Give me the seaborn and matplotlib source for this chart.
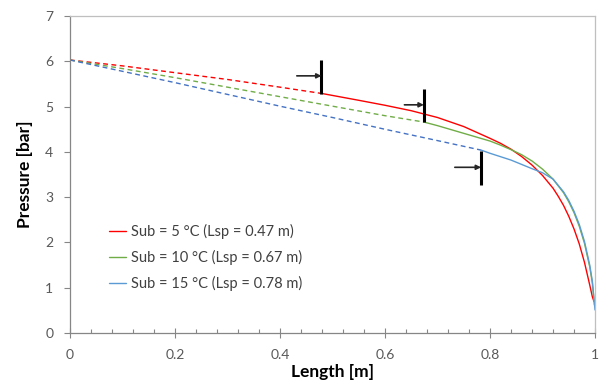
import matplotlib.pyplot as plt
import seaborn as sns

# Pressure along the tube for three subcooling levels
# liquid part (dashed) and two-phase part (solid)
series_labels = ['Sub = 5 °C (Lsp = 0.47 m)', 'Sub = 10 °C (Lsp = 0.67 m)', 'Sub = 15 °C (Lsp = 0.78 m)']

red_liq_x = [0, 0.1, 0.2, 0.3, 0.4, 0.48]
red_liq_y = [6.03, 5.90, 5.75, 5.60, 5.43, 5.29]
red_tp_x = [0.48, 0.55, 0.60, 0.65, 0.70, 0.75, 0.80, 0.82, 0.84, 0.86, 0.88, 0.90, 0.92, 0.93,
            0.94, 0.95, 0.96, 0.97, 0.98, 0.99, 0.995, 0.998]
red_tp_y = [5.29, 5.14, 5.03, 4.91, 4.76, 4.56, 4.30, 4.19, 4.06, 3.90, 3.71, 3.48, 3.20, 3.02,
            2.82, 2.58, 2.30, 1.97, 1.56, 1.06, 0.80, 0.70]

green_liq_x = [0, 0.1, 0.2, 0.3, 0.4, 0.5, 0.6, 0.674]
green_liq_y = [6.03, 5.84, 5.64, 5.43, 5.22, 5.01, 4.80, 4.66]
green_tp_x = [0.674, 0.70, 0.75, 0.80, 0.82, 0.84, 0.86, 0.88, 0.90, 0.92, 0.94, 0.95, 0.96,
              0.97, 0.98, 0.99, 0.995, 0.999]
green_tp_y = [4.66, 4.58, 4.41, 4.24, 4.15, 4.05, 3.94, 3.80, 3.62, 3.40, 3.10, 2.90, 2.66,
              2.36, 1.98, 1.46, 1.10, 0.62]

blue_liq_x = [0, 0.1, 0.2, 0.3, 0.4, 0.5, 0.6, 0.7, 0.783]
blue_liq_y = [6.03, 5.78, 5.53, 5.27, 5.01, 4.76, 4.50, 4.25, 4.04]
blue_tp_x = [0.783, 0.80, 0.84, 0.88, 0.90, 0.92, 0.94, 0.95, 0.96, 0.97, 0.98, 0.99, 0.995, 1.0]
blue_tp_y = [4.04, 3.97, 3.82, 3.63, 3.54, 3.40, 3.12, 2.93, 2.69, 2.40, 2.02, 1.50, 1.14, 0.51]

# markers at the end of the liquid length (vertical bar + arrow)
lsp_x = [0.479, 0.674, 0.783]
bar_low = [5.29, 4.67, 3.27]
bar_high = [6.03, 5.39, 4.01]
arrow_from = [0.432, 0.637, 0.733]
arrow_y = [5.68, 5.04, 3.66]

cores_liq = ['#FF0000', '#70AD47', '#4472C4']
cores_tp = ['#FF0000', '#70AD47', '#5B9BD5']

sns.set_style('white')
plt.rcParams['font.family'] = ['Lato', 'DejaVu Sans']

fig, ax = plt.subplots(figsize=(6.01, 3.83), dpi=100)
fig.subplots_adjust(left=0.1165, right=0.990, bottom=0.1305, top=0.958)

liq = [(red_liq_x, red_liq_y), (green_liq_x, green_liq_y), (blue_liq_x, blue_liq_y)]
tp = [(red_tp_x, red_tp_y), (green_tp_x, green_tp_y), (blue_tp_x, blue_tp_y)]

for i in range(3):
    sns.lineplot(x=liq[i][0], y=liq[i][1], color=cores_liq[i], linewidth=1.0,
                 linestyle=(0, (3.5, 2.5)), sort=False, ax=ax)
    sns.lineplot(x=tp[i][0], y=tp[i][1], color=cores_tp[i], linewidth=1.0,
                 sort=False, ax=ax, label=series_labels[i])

for i in range(3):
    ax.plot([lsp_x[i], lsp_x[i]], [bar_low[i], bar_high[i]], color='black', lw=2.2, solid_capstyle='butt')
    ax.annotate('', xy=(lsp_x[i], arrow_y[i]), xytext=(arrow_from[i], arrow_y[i]),
                arrowprops=dict(arrowstyle='-|>', color='#262626', lw=1.2,
                                mutation_scale=7, shrinkA=0, shrinkB=0))

ax.set_xlim(0, 1)
ax.set_ylim(0, 7)
ax.set_xticks([0, 0.2, 0.4, 0.6, 0.8, 1.0])
ax.set_xticklabels(['0', '0.2', '0.4', '0.6', '0.8', '1'])
ax.xaxis.set_minor_locator(plt.MultipleLocator(0.04))
ax.set_yticks(range(8))

ax.tick_params(axis='x', which='major', direction='inout', length=7, width=0.8,
               color='#868686', labelcolor='#595959', labelsize=10, pad=8)
ax.tick_params(axis='x', which='minor', direction='in', length=3, width=0.8, color='#868686')
ax.tick_params(axis='y', which='major', direction='out', length=4, width=0.8,
               color='#868686', labelcolor='#595959', labelsize=10, pad=8, left=True)
ax.tick_params(axis='x', bottom=True, which='both')

for lado in ['left', 'bottom']:
    ax.spines[lado].set_color('#868686')
    ax.spines[lado].set_linewidth(0.9)
for lado in ['top', 'right']:
    ax.spines[lado].set_color('#BFBFBF')
    ax.spines[lado].set_linewidth(0.9)

ax.set_xlabel('Length [m]', fontsize=12.5, fontweight='bold', color='black', labelpad=2)
ax.set_ylabel('Pressure [bar]', fontsize=12.5, fontweight='bold', color='black', labelpad=9)

leg = ax.legend(loc='upper left', bbox_to_anchor=(0.05, 0.385), frameon=False, fontsize=10.5,
                handlelength=1.15, handletextpad=0.35, labelspacing=0.75)
for t in leg.get_texts():
    t.set_color('#404040')

fig.savefig('out.png', dpi=100)
